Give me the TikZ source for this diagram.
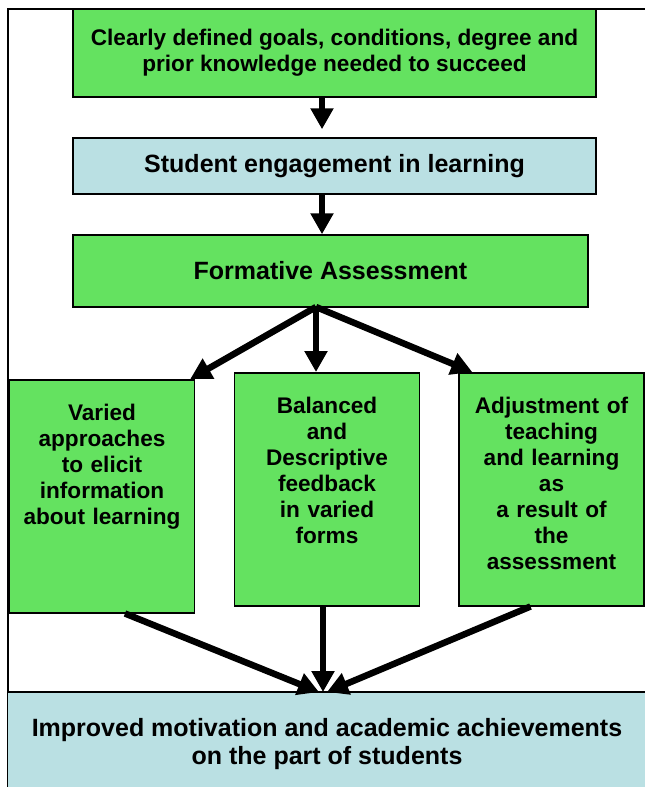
\documentclass[tikz,border=0pt]{standalone}
\usepackage{fontspec}
\setmainfont{Liberation Sans}
\usetikzlibrary{arrows.meta,positioning}

\definecolor{stepgreen}{RGB}{100,226,96}
\definecolor{stepblue}{RGB}{186,224,227}

\begin{document}
\begin{tikzpicture}[
        x=1pt, y=-1pt,
        font=\fontsize{22.6}{26}\selectfont\bfseries,
        flow_box/.style={draw, rectangle, line width=1.5pt, inner sep=0pt, align=center},
        green_box/.style={flow_box, fill=stepgreen},
        blue_box/.style={flow_box, fill=stepblue},
        side_box/.style={green_box, text width=185pt, text height=41pt, text depth=192pt},
        big_text/.style={font=\fontsize{25}{28}\selectfont\bfseries},
        arrow/.style={-{Triangle[length=21pt, width=22pt]}, line width=6.5pt}
    ]
        \clip (0,0) rectangle (645,787);
        \draw[line width=1.5pt] (8,800) -- (8,9) -- (660,9);

        % main column
        \node[green_box, minimum width=523pt, minimum height=88pt] (goals) at (334.5,53)
            {Clearly defined goals, conditions, degree and\\prior knowledge needed to succeed};
        \node[blue_box, big_text, minimum width=523pt, minimum height=56pt] (engage) at (334.5,166)
            {Student engagement in learning};
        \node[green_box, big_text, minimum width=515pt, minimum height=72pt] (formative) at (330.5,271)
            {Formative Assessment};

        % three strands
        \node[side_box, anchor=north] (varied) at (102,379) {Varied\\approaches\\to elicit\\information\\about learning};
        \node[side_box, anchor=north] (feedback) at (327,372) {Balanced\\and\\Descriptive\\feedback\\in varied\\forms};
        \node[side_box, anchor=north] (adjust) at (551.5,372) {Adjustment of\\teaching\\and learning\\as\\a result of\\the\\assessment};

        \node[blue_box, big_text, minimum width=639pt, minimum height=104pt] (result) at (327,744)
            {Improved motivation and academic achievements\\on the part of students};

        \coordinate (spine) at (322,0);
        \coordinate (fan) at (316,307);
        \coordinate (meet) at (323,692);

        \draw[arrow] (goals.south -| spine) -- ([yshift=8pt]engage.north -| spine);
        \draw[arrow] (engage.south -| spine) -- (formative.north -| spine);
        \draw[arrow] (fan) -- ([xshift=-5pt]varied.north east);
        \draw[arrow] (fan) -- (fan |- feedback.north);
        \draw[arrow] (fan) -- ([xshift=14pt]adjust.north west);

        \draw[arrow] ([xshift=23pt]varied.south) -- ([xshift=-4pt]meet);
        \draw[arrow] (meet |- feedback.south) -- (meet);
        \draw[arrow] ([xshift=-21pt]adjust.south) -- ([xshift=4pt]meet);
    \end{tikzpicture}
\end{document}
